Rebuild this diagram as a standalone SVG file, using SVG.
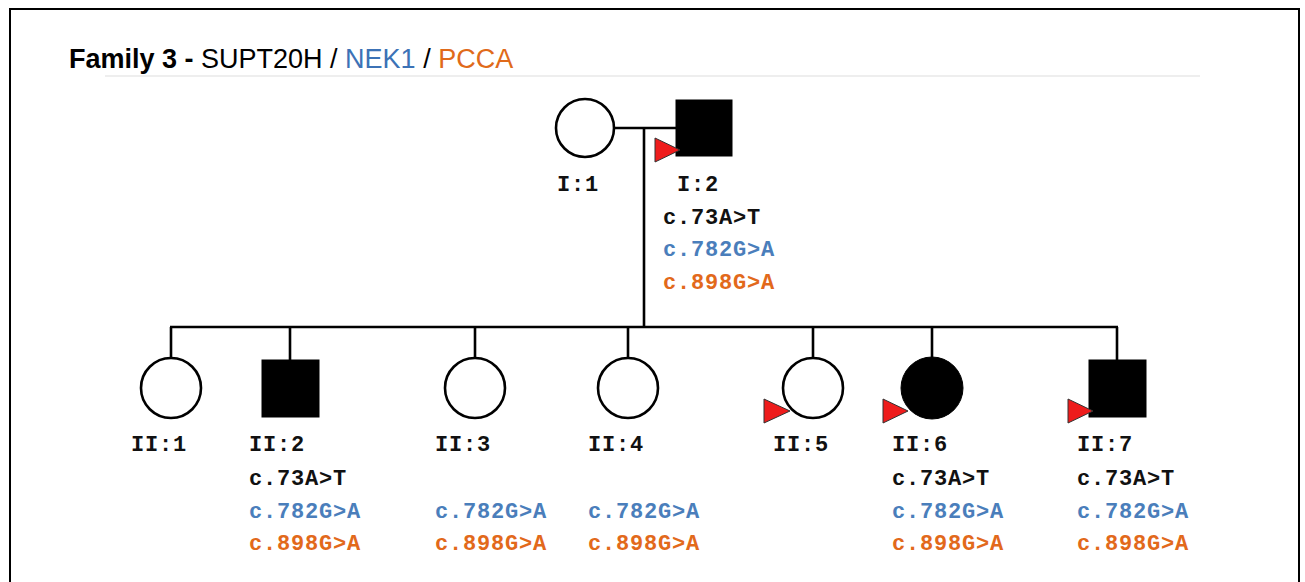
<svg xmlns="http://www.w3.org/2000/svg" width="1305" height="582" viewBox="0 0 1305 582">
<style>
.ln{stroke:#000;stroke-width:2.6;fill:none}
.open{fill:#fff;stroke:#000;stroke-width:2.6}
.aff{fill:#000;stroke:#000;stroke-width:1}
.pro{fill:#ee1c1c;stroke:#333;stroke-width:1}
.lab{font-family:"Liberation Mono","Courier New",monospace;font-weight:bold;font-size:22px;letter-spacing:0.8px;fill:#111}
.b{fill:#4a7ebb}
.o{fill:#e2691b}
.title{font-family:"Liberation Sans",Arial,sans-serif;font-size:27px}
</style>
<rect x="0" y="0" width="1305" height="582" fill="#fff"/>
<rect x="10" y="9" width="1289" height="620" fill="none" stroke="#000" stroke-width="2"/>
<text class="title" x="69" y="68"><tspan font-weight="bold">Family 3 - </tspan><tspan>SUPT20H / </tspan><tspan fill="#3c72b6">NEK1</tspan><tspan> / </tspan><tspan fill="#e06a1a">PCCA</tspan></text>
<line x1="105" y1="76" x2="1200" y2="76" stroke="#ddd" stroke-width="1"/>
<g id="connectors">
<line class="ln" x1="614" y1="128" x2="676" y2="128"/>
<line class="ln" x1="644" y1="128" x2="644" y2="327"/>
<line class="ln" x1="170" y1="327" x2="1118" y2="327"/>
<line class="ln" x1="171" y1="327" x2="171" y2="358"/>
<line class="ln" x1="290" y1="327" x2="290" y2="360"/>
<line class="ln" x1="475" y1="327" x2="475" y2="358"/>
<line class="ln" x1="628" y1="327" x2="628" y2="358"/>
<line class="ln" x1="813" y1="327" x2="813" y2="358"/>
<line class="ln" x1="932" y1="327" x2="932" y2="358"/>
<line class="ln" x1="1117" y1="327" x2="1117" y2="360"/>
</g>
<g id="I1"><circle class="open" cx="585" cy="128" r="29"/><text class="lab" x="557" y="191">I:1</text></g>
<g id="I2"><rect class="aff" x="676" y="100" width="56" height="56"/><polygon class="pro" points="655,138 680,150 655,162"/><text class="lab" x="677" y="191">I:2</text>
<text class="lab" x="663" y="224">c.73A&gt;T</text><text class="lab b" x="663" y="256">c.782G&gt;A</text><text class="lab o" x="663" y="289">c.898G&gt;A</text></g>
<g id="II1"><circle class="open" cx="171" cy="388" r="30"/><text class="lab" x="131" y="451">II:1</text></g>
<g id="II2"><rect class="aff" x="262" y="360" width="57" height="57"/><text class="lab" x="249" y="451">II:2</text>
<text class="lab" x="249" y="485">c.73A&gt;T</text><text class="lab b" x="249" y="518">c.782G&gt;A</text><text class="lab o" x="249" y="550">c.898G&gt;A</text></g>
<g id="II3"><circle class="open" cx="475" cy="388" r="30"/><text class="lab" x="435" y="451">II:3</text>
<text class="lab b" x="435" y="518">c.782G&gt;A</text><text class="lab o" x="435" y="550">c.898G&gt;A</text></g>
<g id="II4"><circle class="open" cx="628" cy="388" r="30"/><text class="lab" x="588" y="451">II:4</text>
<text class="lab b" x="588" y="518">c.782G&gt;A</text><text class="lab o" x="588" y="550">c.898G&gt;A</text></g>
<g id="II5"><circle class="open" cx="813" cy="388" r="30"/><polygon class="pro" points="764,399 790,411 764,423"/><text class="lab" x="773" y="451">II:5</text></g>
<g id="II6"><circle class="aff" cx="932" cy="388" r="31"/><polygon class="pro" points="883,399 908,411 883,423"/><text class="lab" x="892" y="451">II:6</text>
<text class="lab" x="892" y="485">c.73A&gt;T</text><text class="lab b" x="892" y="518">c.782G&gt;A</text><text class="lab o" x="892" y="550">c.898G&gt;A</text></g>
<g id="II7"><rect class="aff" x="1089" y="360" width="57" height="57"/><polygon class="pro" points="1068,399 1093,411 1068,423"/><text class="lab" x="1077" y="451">II:7</text>
<text class="lab" x="1077" y="485">c.73A&gt;T</text><text class="lab b" x="1077" y="518">c.782G&gt;A</text><text class="lab o" x="1077" y="550">c.898G&gt;A</text></g>
</svg>
